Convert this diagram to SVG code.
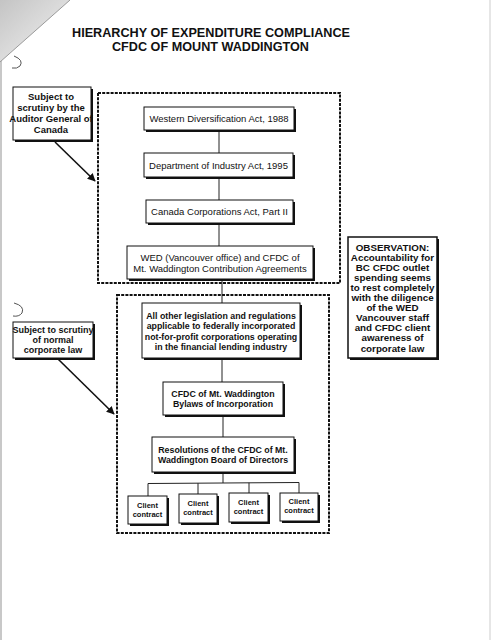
<svg xmlns="http://www.w3.org/2000/svg" width="491" height="640" viewBox="0 0 491 640">
<defs>
<style>
text{font-family:"Liberation Sans",Arial,sans-serif;fill:#111;text-anchor:middle}
.t{font-size:9.5px}
.tb{font-size:8.8px;font-weight:bold}
.sb{font-size:9.5px;font-weight:bold}
.ob{font-size:9.8px;font-weight:bold}
.cl{font-size:7.5px;font-weight:bold}
.title{font-size:13.5px;font-weight:bold}
.box{fill:#fff;stroke:#111;stroke-width:1}
.sh{fill:#111}
.dash{fill:none;stroke:#111;stroke-width:2;stroke-dasharray:3 1.2}
.ln{fill:none;stroke:#222;stroke-width:1}
.arr{fill:none;stroke:#111;stroke-width:1.6}
</style>
<marker id="ah" viewBox="0 0 10 10" refX="9" refY="5" markerWidth="5" markerHeight="5" orient="auto" markerUnits="strokeWidth">
<path d="M0,0 L10,5 L0,10 z" fill="#111"/>
</marker>
<linearGradient id="fold" x1="0" y1="0" x2="1" y2="1">
<stop offset="0" stop-color="#c4c4c4"/>
<stop offset="1" stop-color="#f4f4f4"/>
</linearGradient>
</defs>
<rect x="0" y="0" width="491" height="640" fill="#fff"/>
<rect x="0" y="0" width="2" height="640" fill="#c8c8c8"/>
<rect x="489" y="0" width="2" height="640" fill="#e6e6e6"/>
<polygon points="0,0 70,0 0,62" fill="url(#fold)"/>
<line x1="70" y1="0" x2="0" y2="62" stroke="#9a9a9a" stroke-width="1"/>
<path d="M14,56 Q24,60 20,66 Q17,69 12,68" fill="none" stroke="#555" stroke-width="1"/>
<path d="M14,303 Q25,306 22,313 Q19,317 13,316" fill="none" stroke="#555" stroke-width="1"/>

<g id="title">
<text class="title" x="211" y="37" textLength="278" lengthAdjust="spacingAndGlyphs">HIERARCHY OF EXPENDITURE COMPLIANCE</text>
<text class="title" x="210.5" y="51.2" textLength="197" lengthAdjust="spacingAndGlyphs">CFDC OF MOUNT WADDINGTON</text>
</g>

<g id="groups">
<rect class="dash" x="98" y="93" width="242" height="190"/>
<rect class="dash" x="117" y="295" width="212" height="238"/>
</g>

<g id="connectors">
<line class="ln" x1="219" y1="130" x2="219" y2="153"/>
<line class="ln" x1="219" y1="177" x2="219" y2="200"/>
<line class="ln" x1="219" y1="223" x2="219" y2="246"/>
<line class="ln" x1="222" y1="279" x2="222" y2="303"/>
<line class="ln" x1="222" y1="358" x2="222" y2="382"/>
<line class="ln" x1="223" y1="415" x2="223" y2="437"/>
<line class="ln" x1="223" y1="472" x2="223" y2="483"/>
<polyline class="ln" points="148,496 148,483.5 299,482.5 299,493"/>
<line class="ln" x1="198" y1="483.2" x2="198" y2="494"/>
<line class="ln" x1="249" y1="482.8" x2="249" y2="493"/>
<line class="arr" x1="55" y1="142" x2="95" y2="181" marker-end="url(#ah)"/>
<line class="arr" x1="58" y1="359" x2="114" y2="414" marker-end="url(#ah)"/>
</g>

<g id="auditor">
<rect class="sh" x="15" y="89" width="78" height="53"/>
<rect class="box" x="13" y="87" width="78" height="53"/>
<text class="sb" x="51" y="100">Subject to</text>
<text class="sb" x="51" y="111">scrutiny by the</text>
<text class="sb" x="51" y="122">Auditor General of</text>
<text class="sb" x="51" y="133">Canada</text>
</g>

<g id="corplaw">
<rect class="sh" x="15" y="324" width="80" height="36"/>
<rect class="box" x="13" y="322" width="80" height="36"/>
<text class="sb" x="53" y="333" style="font-size:9px">Subject to scrutiny</text>
<text class="sb" x="53" y="343" style="font-size:9px">of normal</text>
<text class="sb" x="53" y="352.5" style="font-size:9px">corporate law</text>
</g>

<g id="observation">
<rect class="sh" x="350" y="239" width="89" height="121"/>
<rect class="box" x="348" y="237" width="89" height="121" style="stroke-width:1.5"/>
<text class="ob" x="392.5" y="250.5">OBSERVATION:</text>
<text class="ob" x="392.5" y="260.6">Accountability for</text>
<text class="ob" x="392.5" y="270.7">BC CFDC outlet</text>
<text class="ob" x="392.5" y="280.8">spending seems</text>
<text class="ob" x="392.5" y="290.9">to rest completely</text>
<text class="ob" x="392.5" y="301">with the diligence</text>
<text class="ob" x="392.5" y="311.1">of the WED</text>
<text class="ob" x="392.5" y="321.2">Vancouver staff</text>
<text class="ob" x="392.5" y="331.3">and CFDC client</text>
<text class="ob" x="392.5" y="341.4">awareness of</text>
<text class="ob" x="392.5" y="351.5">corporate law</text>
</g>

<g id="n1">
<rect class="sh" x="146" y="109" width="150" height="23"/>
<rect class="box" x="144" y="107" width="150" height="23"/>
<text class="t" x="219" y="121.5">Western Diversification Act, 1988</text>
</g>
<g id="n2">
<rect class="sh" x="146" y="155" width="149" height="24"/>
<rect class="box" x="144" y="153" width="149" height="24"/>
<text class="t" x="218.5" y="168.5">Department of Industry Act, 1995</text>
</g>
<g id="n3">
<rect class="sh" x="148" y="202" width="147" height="23"/>
<rect class="box" x="146" y="200" width="147" height="23"/>
<text class="t" x="219.5" y="214.5">Canada Corporations Act, Part II</text>
</g>
<g id="n4">
<rect class="sh" x="129" y="248" width="186" height="33"/>
<rect class="box" x="127" y="246" width="186" height="33"/>
<text class="t" x="220" y="260.5">WED (Vancouver office) and CFDC of</text>
<text class="t" x="220" y="271.5">Mt. Waddington Contribution Agreements</text>
</g>
<g id="n5">
<rect class="sh" x="144" y="305" width="158" height="55"/>
<rect class="box" x="142" y="303" width="158" height="55"/>
<text class="tb" x="221" y="318.5">All other legislation and regulations</text>
<text class="tb" x="221" y="329">applicable to federally incorporated</text>
<text class="tb" x="221" y="339.5">not-for-profit corporations operating</text>
<text class="tb" x="221" y="350">in the financial lending industry</text>
</g>
<g id="n6">
<rect class="sh" x="165" y="384" width="120" height="33"/>
<rect class="box" x="163" y="382" width="120" height="33"/>
<text class="tb" x="223" y="396.5">CFDC of Mt. Waddington</text>
<text class="tb" x="223" y="406.5">Bylaws of Incorporation</text>
</g>
<g id="n7">
<rect class="sh" x="154" y="439" width="142" height="35"/>
<rect class="box" x="152" y="437" width="142" height="35"/>
<text class="tb" x="223" y="453">Resolutions of the CFDC of Mt.</text>
<text class="tb" x="223" y="463">Waddington Board of Directors</text>
</g>
<g id="c1">
<rect class="sh" x="130" y="498" width="39" height="28"/>
<rect class="box" x="128" y="496" width="39" height="28"/>
<text class="cl" x="147.5" y="508">Client</text>
<text class="cl" x="147.5" y="517">contract</text>
</g>
<g id="c2">
<rect class="sh" x="181" y="496" width="38" height="29"/>
<rect class="box" x="179" y="494" width="38" height="29"/>
<text class="cl" x="198" y="506">Client</text>
<text class="cl" x="198" y="515">contract</text>
</g>
<g id="c3">
<rect class="sh" x="231" y="495" width="39" height="29"/>
<rect class="box" x="229" y="493" width="39" height="29"/>
<text class="cl" x="248.5" y="505">Client</text>
<text class="cl" x="248.5" y="514">contract</text>
</g>
<g id="c4">
<rect class="sh" x="282" y="495" width="38" height="28"/>
<rect class="box" x="280" y="493" width="38" height="28"/>
<text class="cl" x="299" y="504">Client</text>
<text class="cl" x="299" y="513">contract</text>
</g>
</svg>
